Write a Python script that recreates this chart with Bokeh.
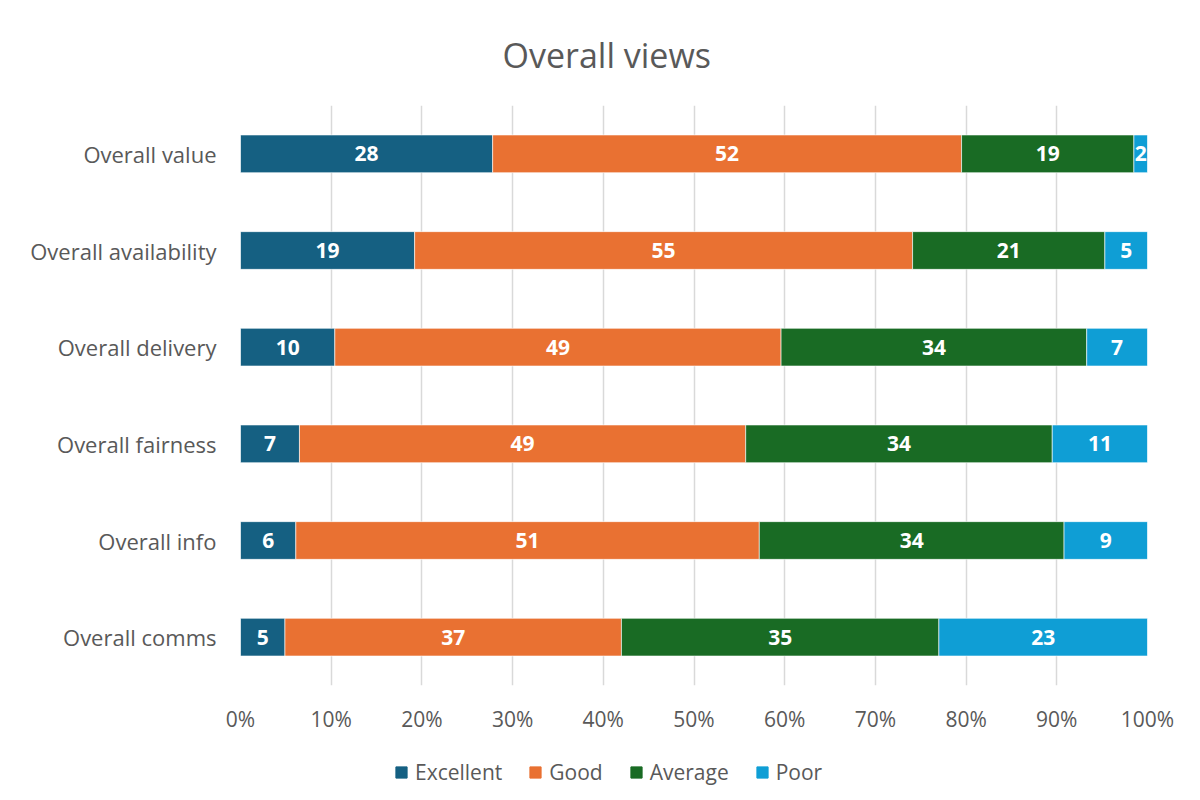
from bokeh.plotting import figure
from bokeh.layouts import column
from bokeh.models import (FactorRange, Range1d, FixedTicker, PrintfTickFormatter,
                          Legend, LegendItem, ColumnDataSource)
from bokeh.core.properties import value
from bokeh.embed import file_html
from bokeh.resources import INLINE

# ---- data ----
categories = ["Overall value", "Overall availability", "Overall delivery",
              "Overall fairness", "Overall info", "Overall comms"]
series = ["Excellent", "Good", "Average", "Poor"]
# bar shares (% of row)
excellent = [27.8, 19.2, 10.4, 6.5, 6.1, 4.9]
good = [51.7, 54.9, 49.2, 49.2, 51.1, 37.1]
average = [19.0, 21.2, 33.7, 33.8, 33.6, 35.0]
poor = [1.5, 4.7, 6.7, 10.5, 9.2, 23.0]
# data labels shown on the bars
excellent_lbl = [28, 19, 10, 7, 6, 5]
good_lbl = [52, 55, 49, 49, 51, 37]
average_lbl = [19, 21, 34, 34, 34, 35]
poor_lbl = [2, 5, 7, 11, 9, 23]
x_ticks = [0, 10, 20, 30, 40, 50, 60, 70, 80, 90, 100]

colors = ["#156082", "#E97132", "#196B24", "#0F9ED5"]
TXT = "#595959"
FONT = "Open Sans"

src = ColumnDataSource(dict(cat=categories, Excellent=excellent, Good=good,
                            Average=average, Poor=poor))

p = figure(frame_width=907, frame_height=580, output_backend="svg", toolbar_location=None,
           y_range=FactorRange(*reversed(categories)), x_range=Range1d(0, 100),
           min_border_left=240, min_border_right=45, min_border_top=105,
           min_border_bottom=55)
p.outline_line_color = None
p.background_fill_color = "white"
p.border_fill_color = "white"

renderers = p.hbar_stack(series, y="cat", height=0.39, color=colors, source=src,
                         line_color="white", line_width=0.6)

# labels
vals = [excellent, good, average, poor]
lbls = [excellent_lbl, good_lbl, average_lbl, poor_lbl]
lx, ly, lt = [], [], []
left = [0.0] * len(categories)
for v, l in zip(vals, lbls):
    for i, c in enumerate(categories):
        lx.append(left[i] + v[i] / 2)
        ly.append(c)
        lt.append(str(l[i]))
        left[i] += v[i]
p.text(x=lx, y=ly, text=lt, text_align="center", text_baseline="middle",
       text_color="white", text_font=value(FONT), text_font_style="bold",
       text_font_size="21px")

# title
p.title.text = "Overall views"
p.title.align = "left"
p.title.offset = 262
p.title.text_font = FONT
p.title.text_font_size = "34px"
p.title.text_font_style = "normal"
p.title.text_color = TXT
p.title.standoff = 56

# axes
p.xaxis.ticker = FixedTicker(ticks=x_ticks)
p.xaxis.formatter = PrintfTickFormatter(format="%d%%")
for ax in (p.xaxis[0], p.yaxis[0]):
    ax.axis_line_color = None
    ax.major_tick_line_color = None
    ax.minor_tick_line_color = None
    ax.major_label_text_font = FONT
    ax.major_label_text_color = TXT
p.xaxis.major_label_text_font_size = "21px"
p.xaxis.major_label_standoff = 13
p.yaxis.major_label_text_font_size = "22px"
p.yaxis.major_label_standoff = 18

p.xgrid.grid_line_color = "#D9D9D9"
p.xgrid.grid_line_width = 1.5
p.ygrid.grid_line_color = None

# legend strip below the chart (proxy glyphs lie outside its visible range)
lf = figure(width=1195, height=58, output_backend="svg", toolbar_location=None,
            x_range=Range1d(0, 1), y_range=Range1d(0, 1),
            x_axis_location=None, y_axis_location=None, min_border=0)
lf.outline_line_color = None
lf.xgrid.grid_line_color = None
lf.ygrid.grid_line_color = None
leg_src = ColumnDataSource(dict(y=[-5.0], left=[-5.0], right=[-4.0]))
leg_rs = [lf.hbar(y="y", left="left", right="right", height=0.5, color=c, source=leg_src)
          for c in colors]
legend = Legend(items=[LegendItem(label=s, renderers=[r]) for s, r in zip(series, leg_rs)],
                orientation="horizontal", location=(154, 12),
                label_text_font=FONT, label_text_font_size="21px", label_text_color=TXT,
                glyph_width=14, glyph_height=14, spacing=26, label_standoff=7,
                border_line_color=None, background_fill_color=None, margin=0, padding=4)
lf.add_layout(legend, "center")

open("out.html", "w").write(file_html(column(p, lf, spacing=0), INLINE))
